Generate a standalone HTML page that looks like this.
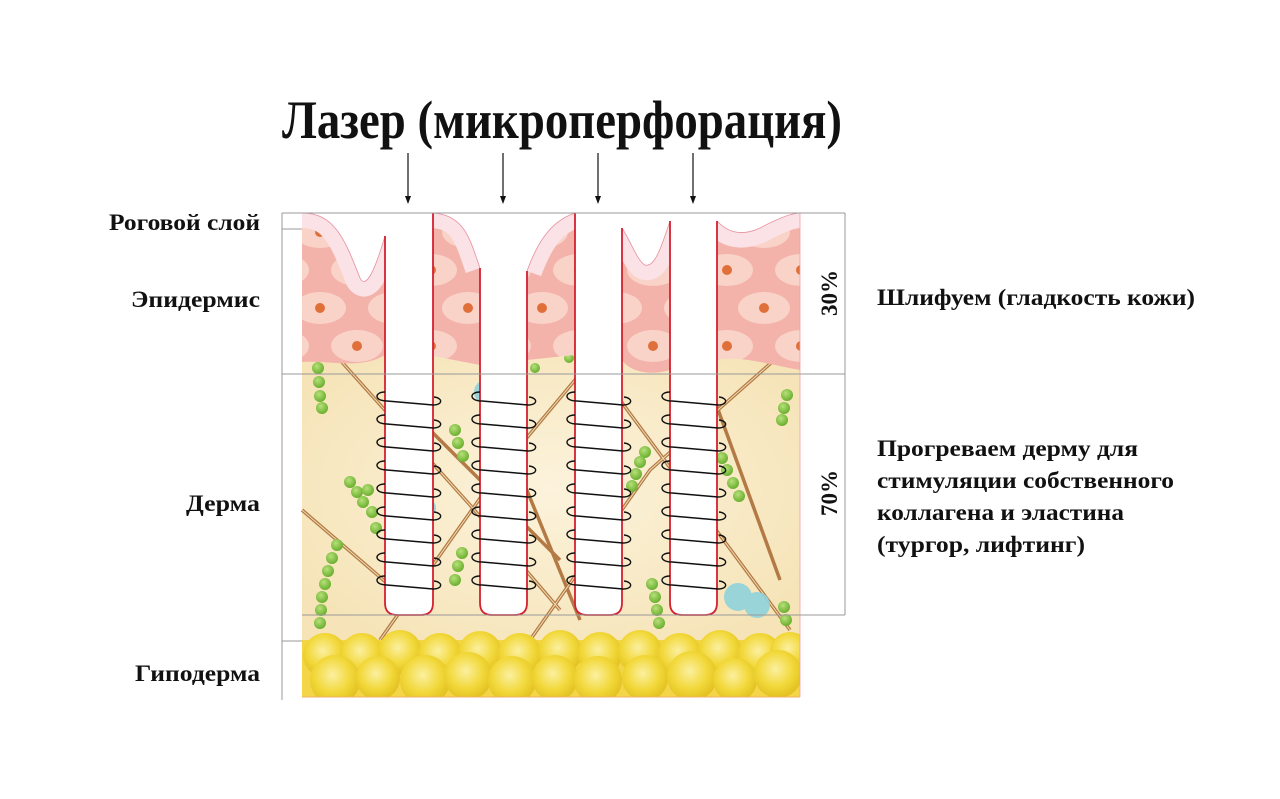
<!DOCTYPE html>
<html><head><meta charset="utf-8"><style>
html,body{margin:0;padding:0;background:#fff;}
svg{display:block;}
text{font-family:"Liberation Serif","DejaVu Serif",serif;font-weight:bold;fill:#111;}
</style></head><body>
<svg width="1280" height="799" viewBox="0 0 1280 799" xmlns="http://www.w3.org/2000/svg">
<defs>
<radialGradient id="sph" cx="45%" cy="40%" r="60%">
<stop offset="0" stop-color="#fbf0a0"/><stop offset="0.6" stop-color="#f2d83a"/><stop offset="1" stop-color="#e2c020"/>
</radialGradient>
<radialGradient id="grn" cx="40%" cy="35%" r="65%">
<stop offset="0" stop-color="#b6e07a"/><stop offset="1" stop-color="#6aaf2e"/>
</radialGradient>
<radialGradient id="der" cx="50%" cy="50%" r="60%">
<stop offset="0" stop-color="#fcf3dc"/><stop offset="1" stop-color="#f6e4b8"/>
</radialGradient>
<pattern id="cells" patternUnits="userSpaceOnUse" width="74" height="76" x="302" y="213">
<rect width="74" height="76" fill="#f4b3aa"/>
<ellipse cx="18" cy="19" rx="26" ry="16" fill="#f9d2c8"/>
<ellipse cx="55" cy="57" rx="26" ry="16" fill="#f9d2c8"/>
<ellipse cx="-19" cy="57" rx="26" ry="16" fill="#f9d2c8"/>
<ellipse cx="92" cy="19" rx="26" ry="16" fill="#f9d2c8"/>
<circle cx="18" cy="19" r="5" fill="#e0703a"/>
<circle cx="55" cy="57" r="5" fill="#e0703a"/>
</pattern>
<g id="coil" fill="none" stroke="#111" stroke-width="1.4">
<path d="M0,0 C-11,0 -11,9 2,9"/>
<path d="M2,9 C15,10 35,12 48,13"/>
<path d="M48,13 C58,13 58,6 49,5"/>
</g>
<g id="coils">
<use href="#coil" y="0"/><use href="#coil" y="23"/><use href="#coil" y="46"/><use href="#coil" y="69"/><use href="#coil" y="92"/><use href="#coil" y="115"/><use href="#coil" y="138"/><use href="#coil" y="161"/><use href="#coil" y="184"/>
</g>
</defs>

<rect x="302" y="340" width="498" height="300" fill="url(#der)"/>
<g stroke="#b37a45" stroke-width="3.5" fill="none">
<path d="M302,510 L395,590"/><path d="M340,360 L470,505 L560,610"/>
<path d="M380,640 L500,470 L600,350"/><path d="M490,400 L580,620 "/>
<path d="M530,640 L650,470 L780,355"/><path d="M620,400 L790,630"/>
<path d="M700,360 L780,580"/><path d="M420,420 L560,560"/>
</g>
<g stroke="#f6e6be" stroke-width="1" fill="none" opacity="0.9">
<path d="M302,510 L395,590"/><path d="M340,360 L470,505 L560,610"/>
<path d="M380,640 L500,470 L600,350"/><path d="M530,640 L650,470 L780,355"/>
<path d="M620,400 L790,630"/>
</g>
<g fill="#8fd3dc" opacity="0.9">
<circle cx="738" cy="597" r="14"/><circle cx="757" cy="605" r="13"/><circle cx="486" cy="392" r="12"/><circle cx="427" cy="508" r="9"/>
</g>
<g fill="url(#grn)">
<circle cx="318" cy="368" r="6"/><circle cx="319" cy="382" r="6"/><circle cx="320" cy="396" r="6"/><circle cx="322" cy="408" r="6"/>
<circle cx="350" cy="482" r="6"/><circle cx="357" cy="492" r="6"/><circle cx="363" cy="502" r="6"/><circle cx="368" cy="490" r="6"/><circle cx="372" cy="512" r="6"/><circle cx="376" cy="528" r="6"/>
<circle cx="337" cy="545" r="6"/><circle cx="332" cy="558" r="6"/><circle cx="328" cy="571" r="6"/><circle cx="325" cy="584" r="6"/><circle cx="322" cy="597" r="6"/><circle cx="321" cy="610" r="6"/><circle cx="320" cy="623" r="6"/>
<circle cx="455" cy="430" r="6"/><circle cx="458" cy="443" r="6"/><circle cx="463" cy="456" r="6"/>
<circle cx="462" cy="553" r="6"/><circle cx="458" cy="566" r="6"/><circle cx="455" cy="580" r="6"/>
<circle cx="535" cy="368" r="5"/><circle cx="569" cy="358" r="5"/>
<circle cx="645" cy="452" r="6"/><circle cx="640" cy="462" r="6"/><circle cx="636" cy="474" r="6"/><circle cx="632" cy="486" r="6"/>
<circle cx="652" cy="584" r="6"/><circle cx="655" cy="597" r="6"/><circle cx="657" cy="610" r="6"/><circle cx="659" cy="623" r="6"/>
<circle cx="722" cy="458" r="6"/><circle cx="727" cy="470" r="6"/><circle cx="733" cy="483" r="6"/><circle cx="739" cy="496" r="6"/>
<circle cx="787" cy="395" r="6"/><circle cx="784" cy="408" r="6"/><circle cx="782" cy="420" r="6"/>
<circle cx="784" cy="607" r="6"/><circle cx="786" cy="620" r="6"/>
</g>

<path d="M302,213 L800,213 L800,370 C770,365 740,355 717,360 L670,370 C650,376 630,372 622,360 C600,362 590,350 575,355 L527,360 C510,370 495,372 480,365 L433,356 C420,350 400,345 385,355 C360,370 330,360 302,362 Z" fill="url(#cells)"/>
<g fill="none" stroke="#fbe2e6" stroke-width="30">
<path d="M302,213 C335,213 345,240 360,278 C366,290 375,270 385,236"/>
<path d="M433,213 C465,215 470,240 480,268"/>
<path d="M527,271 C540,235 555,220 575,213"/>
<path d="M622,228 C630,240 638,262 645,265 C655,268 662,245 670,221"/>
<path d="M717,221 C730,235 745,235 760,228 C775,220 790,213 800,213"/>
</g>
<g fill="#fff">
<path d="M302,213 C335,213 345,240 360,278 C366,290 375,270 385,236 L385,205 L302,205 Z"/>
<path d="M433,213 C465,215 470,240 480,268 L480,205 L433,205 Z"/>
<path d="M527,271 C540,235 555,220 575,213 L575,205 L527,205 Z"/>
<path d="M622,228 C630,240 638,262 645,265 C655,268 662,245 670,221 L670,205 L622,205 Z"/>
<path d="M717,221 C730,235 745,235 760,228 C775,220 790,213 800,213 L800,205 L717,205 Z"/>
</g>
<g fill="none" stroke="#e6909c" stroke-width="0.8">
<path d="M302,213 C335,213 345,240 360,278 C366,290 375,270 385,236"/>
<path d="M433,213 C465,215 470,240 480,268"/>
<path d="M527,271 C540,235 555,220 575,213"/>
<path d="M622,228 C630,240 638,262 645,265 C655,268 662,245 670,221"/>
<path d="M717,221 C730,235 745,235 760,228 C775,220 790,213 800,213"/>
</g>
<rect x="290" y="195" width="520" height="17.5" fill="#fff"/>

<rect x="302" y="640" width="498" height="57" fill="#f4d548"/>
<g fill="url(#sph)">
<circle cx="325" cy="655" r="22"/><circle cx="362" cy="655" r="22"/><circle cx="400" cy="652" r="22"/><circle cx="440" cy="655" r="22"/><circle cx="480" cy="653" r="22"/><circle cx="520" cy="655" r="22"/><circle cx="560" cy="652" r="22"/><circle cx="600" cy="654" r="22"/><circle cx="640" cy="652" r="22"/><circle cx="680" cy="655" r="22"/><circle cx="720" cy="652" r="22"/><circle cx="760" cy="655" r="22"/><circle cx="790" cy="652" r="20"/>
<circle cx="335" cy="680" r="25"/><circle cx="378" cy="678" r="22"/><circle cx="425" cy="680" r="25"/><circle cx="468" cy="676" r="24"/><circle cx="512" cy="680" r="24"/><circle cx="555" cy="678" r="23"/><circle cx="598" cy="680" r="24"/><circle cx="645" cy="678" r="23"/><circle cx="692" cy="676" r="25"/><circle cx="735" cy="680" r="22"/><circle cx="778" cy="674" r="24"/>
</g>
<rect x="0" y="697" width="1280" height="40" fill="#fff"/>
<rect x="800" y="200" width="44" height="500" fill="#fff"/>
<line x1="302" y1="697" x2="800" y2="697" stroke="#f0b060" stroke-width="1"/>
<line x1="800" y1="213" x2="800" y2="697" stroke="#f0a0a0" stroke-width="0.8"/>

<g fill="#fff">
<rect x="385" y="213" width="48" height="40"/>
<rect x="480" y="213" width="47" height="70"/>
<rect x="575" y="213" width="47" height="30"/>
<rect x="670" y="213" width="47" height="30"/>
</g>
<g fill="#fff" stroke="#d42030" stroke-width="1.8">
<path d="M385,236 L385,603 Q385,615 397,615 L421,615 Q433,615 433,603 L433,213"/>
<path d="M480,268 L480,603 Q480,615 492,615 L515,615 Q527,615 527,603 L527,271"/>
<path d="M575,213 L575,603 Q575,615 587,615 L610,615 Q622,615 622,603 L622,228"/>
<path d="M670,221 L670,603 Q670,615 682,615 L705,615 Q717,615 717,603 L717,221"/>
</g>
<g transform="translate(385,392)"><use href="#coils"/></g>
<g transform="translate(480,392)"><use href="#coils"/></g>
<g transform="translate(575,392)"><use href="#coils"/></g>
<g transform="translate(670,392)"><use href="#coils"/></g>

<g stroke="#999" stroke-width="1" fill="none">
<line x1="282" y1="213" x2="845" y2="213"/>
<line x1="282" y1="213" x2="282" y2="700"/>
<line x1="845" y1="213" x2="845" y2="615"/>
<line x1="282" y1="374" x2="845" y2="374"/>
<line x1="302" y1="615" x2="845" y2="615"/>
<line x1="282" y1="229" x2="302" y2="229"/>
<line x1="282" y1="641" x2="302" y2="641"/>
</g>

<text x="282" y="138" font-size="54" textLength="560" lengthAdjust="spacingAndGlyphs">Лазер (микроперфорация)</text>

<g stroke="#111" stroke-width="1.2">
<line x1="408" y1="153" x2="408" y2="198"/><line x1="503" y1="153" x2="503" y2="198"/>
<line x1="598" y1="153" x2="598" y2="198"/><line x1="693" y1="153" x2="693" y2="198"/>
</g>
<g fill="#111">
<path d="M405,196 L411,196 L408,204Z"/><path d="M500,196 L506,196 L503,204Z"/>
<path d="M595,196 L601,196 L598,204Z"/><path d="M690,196 L696,196 L693,204Z"/>
</g>

<text x="109" y="230" font-size="23" textLength="151" lengthAdjust="spacingAndGlyphs">Роговой слой</text>
<text x="131" y="307" font-size="23" textLength="129" lengthAdjust="spacingAndGlyphs">Эпидермис</text>
<text x="186" y="511" font-size="23" textLength="74" lengthAdjust="spacingAndGlyphs">Дерма</text>
<text x="135" y="681" font-size="23" textLength="125" lengthAdjust="spacingAndGlyphs">Гиподерма</text>
<text transform="translate(837,293) rotate(-90)" font-size="23" text-anchor="middle">30%</text>
<text transform="translate(837,493) rotate(-90)" font-size="23" text-anchor="middle">70%</text>
<text x="877" y="305" font-size="23" textLength="318" lengthAdjust="spacingAndGlyphs">Шлифуем (гладкость кожи)</text>
<text x="877" y="456" font-size="23" textLength="261" lengthAdjust="spacingAndGlyphs">Прогреваем дерму для</text>
<text x="877" y="488" font-size="23" textLength="297" lengthAdjust="spacingAndGlyphs">стимуляции собственного</text>
<text x="877" y="520" font-size="23" textLength="247" lengthAdjust="spacingAndGlyphs">коллагена и эластина</text>
<text x="877" y="552" font-size="23" textLength="208" lengthAdjust="spacingAndGlyphs">(тургор, лифтинг)</text>
</svg>
</body></html>
